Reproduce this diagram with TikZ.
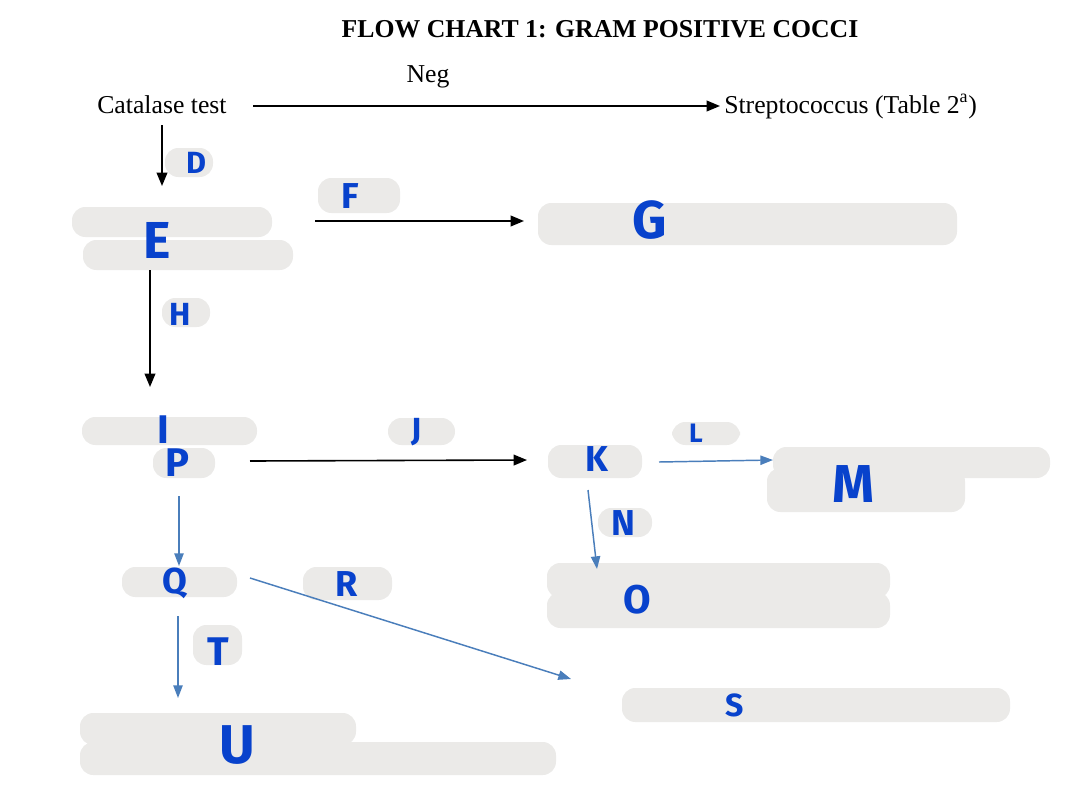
\documentclass[tikz,border=0pt]{standalone}
\usepackage{fontspec}
\setmainfont{Liberation Serif}
\newfontfamily\handfont{Fira Sans}
\usetikzlibrary{arrows.meta}
\definecolor{blobgray}{RGB}{235,234,232}
\definecolor{inkblue}{RGB}{8,66,204}
\definecolor{arrowblue}{RGB}{74,126,187}
\tikzset{
  blob/.style={fill=blobgray, rounded corners=10pt},
  letter/.style={text=inkblue, inner sep=0pt, font=\handfont\bfseries\fontsize{#1}{#1}\selectfont},
  txt/.style={inner sep=0pt, font=\fontsize{19.3pt}{23pt}\selectfont},
  titletxt/.style={inner sep=0pt, font=\bfseries\fontsize{19.3pt}{23pt}\selectfont},
  blackarrow/.style={draw=black, line width=1.2pt, -{Triangle[length=10pt,width=8pt]}},
  bluearrow/.style={draw=arrowblue, line width=1.1pt, -{Triangle[length=9.5pt,width=7pt]}}
}
\begin{document}
\begin{tikzpicture}[x=0.75pt,y=-0.75pt]
\useasboundingbox (0,0) rectangle (1079,797);
\fill[white] (0,0) rectangle (1079,797);

% texts
\node[titletxt, anchor=base] (title) at (600,37) {FLOW CHART 1: GRAM POSITIVE COCCI};
\node[txt, anchor=base] (neg) at (428,82) {Neg};
\node[txt, anchor=base west] (cat) at (97,113) {Catalase test};
\node[txt, anchor=base west] (strep) at (724,113) {Streptococcus (Table 2\textsuperscript{a})};

% blobs
\path[blob] (165,148) rectangle (213,177);
\path[blob] (72,207) rectangle (272,237);
\path[blob] (83,240) rectangle (293,270);
\path[blob] (318,178) rectangle (400,213);
\path[blob] (538,203) rectangle (957,245);
\path[blob] (162,298) rectangle (210,327);
\path[blob] (82,417) rectangle (257,445);
\path[blob] (153,448) rectangle (215,478);
\path[blob] (388,418) rectangle (455,445);
\path[blob] (548,445) rectangle (642,478);
\path[blob] (672,422) rectangle (740,445);
\path[blob] (773,447) rectangle (1050,478);
\path[blob] (767,468) rectangle (965,512);
\path[blob] (598,508) rectangle (652,537);
\path[blob] (547,563) rectangle (890,598);
\path[blob] (547,592) rectangle (890,628);
\path[blob] (122,567) rectangle (237,597);
\path[blob] (303,567) rectangle (392,600);
\path[blob] (193,625) rectangle (242,665);
\path[blob] (622,688) rectangle (1010,722);
\path[blob] (80,713) rectangle (356,745);
\path[blob] (80,742) rectangle (556,775);

% letters
\node[letter=23pt] (D) at (196,163) {D};
\node[letter=39pt] (E) at (157,240) {E};
\node[letter=27pt] (F) at (350,196) {F};
\node[letter=40pt] (G) at (650,220) {G};
\node[letter=24pt] (H) at (180,314) {H};
\node[letter=30pt] (I) at (163,430) {I};
\node[letter=30pt] (P) at (177,463) {P};
\node[letter=24pt] (J) at (417,432) {J};
\node[letter=27pt] (K) at (597,459) {K};
\node[letter=20pt] (L) at (696,433) {L};
\node[letter=40pt] (M) at (853,484) {M};
\node[letter=27pt] (N) at (623,523) {N};
\node[letter=30pt] (O) at (637,600) {O};
\node[letter=27pt] (Q) at (175,583) {Q};
\node[letter=27pt] (R) at (347,584) {R};
\node[letter=30pt] (T) at (218,652) {T};
\node[letter=24pt] (S) at (735,705) {S};
\node[letter=41pt] (U) at (237,745) {U};

% connector end points
\coordinate (catR) at (253,106);
\coordinate (strepL) at (720,106);
\coordinate (catB) at (162,125);
\coordinate (eT) at (162,186);
\coordinate (eR) at (315,221);
\coordinate (gL) at (524,221);
\coordinate (eB) at (150,270);
\coordinate (iT) at (150,387);
\coordinate (pR) at (250,461);
\coordinate (kL) at (527,460);
\coordinate (kR) at (659,462);
\coordinate (mL) at (773,460);
\coordinate (kB) at (588,490);
\coordinate (oT) at (597,569);
\coordinate (pB) at (179,496);
\coordinate (qT) at (179,566);
\coordinate (qR) at (250,578);
\coordinate (sL) at (571,679);
\coordinate (qB) at (178,616);
\coordinate (uT) at (178,698);

% connectors
\draw[blackarrow] (catR) -- (strepL);
\draw[blackarrow] (catB) -- (eT);
\draw[blackarrow] (eR) -- (gL);
\draw[blackarrow] (eB) -- (iT);
\draw[blackarrow] (pR) -- (kL);
\draw[bluearrow] (kR) -- (mL);
\draw[bluearrow] (kB) -- (oT);
\draw[bluearrow] (pB) -- (qT);
\draw[bluearrow] (qR) -- (sL);
\draw[bluearrow] (qB) -- (uT);
\end{tikzpicture}
\end{document}
